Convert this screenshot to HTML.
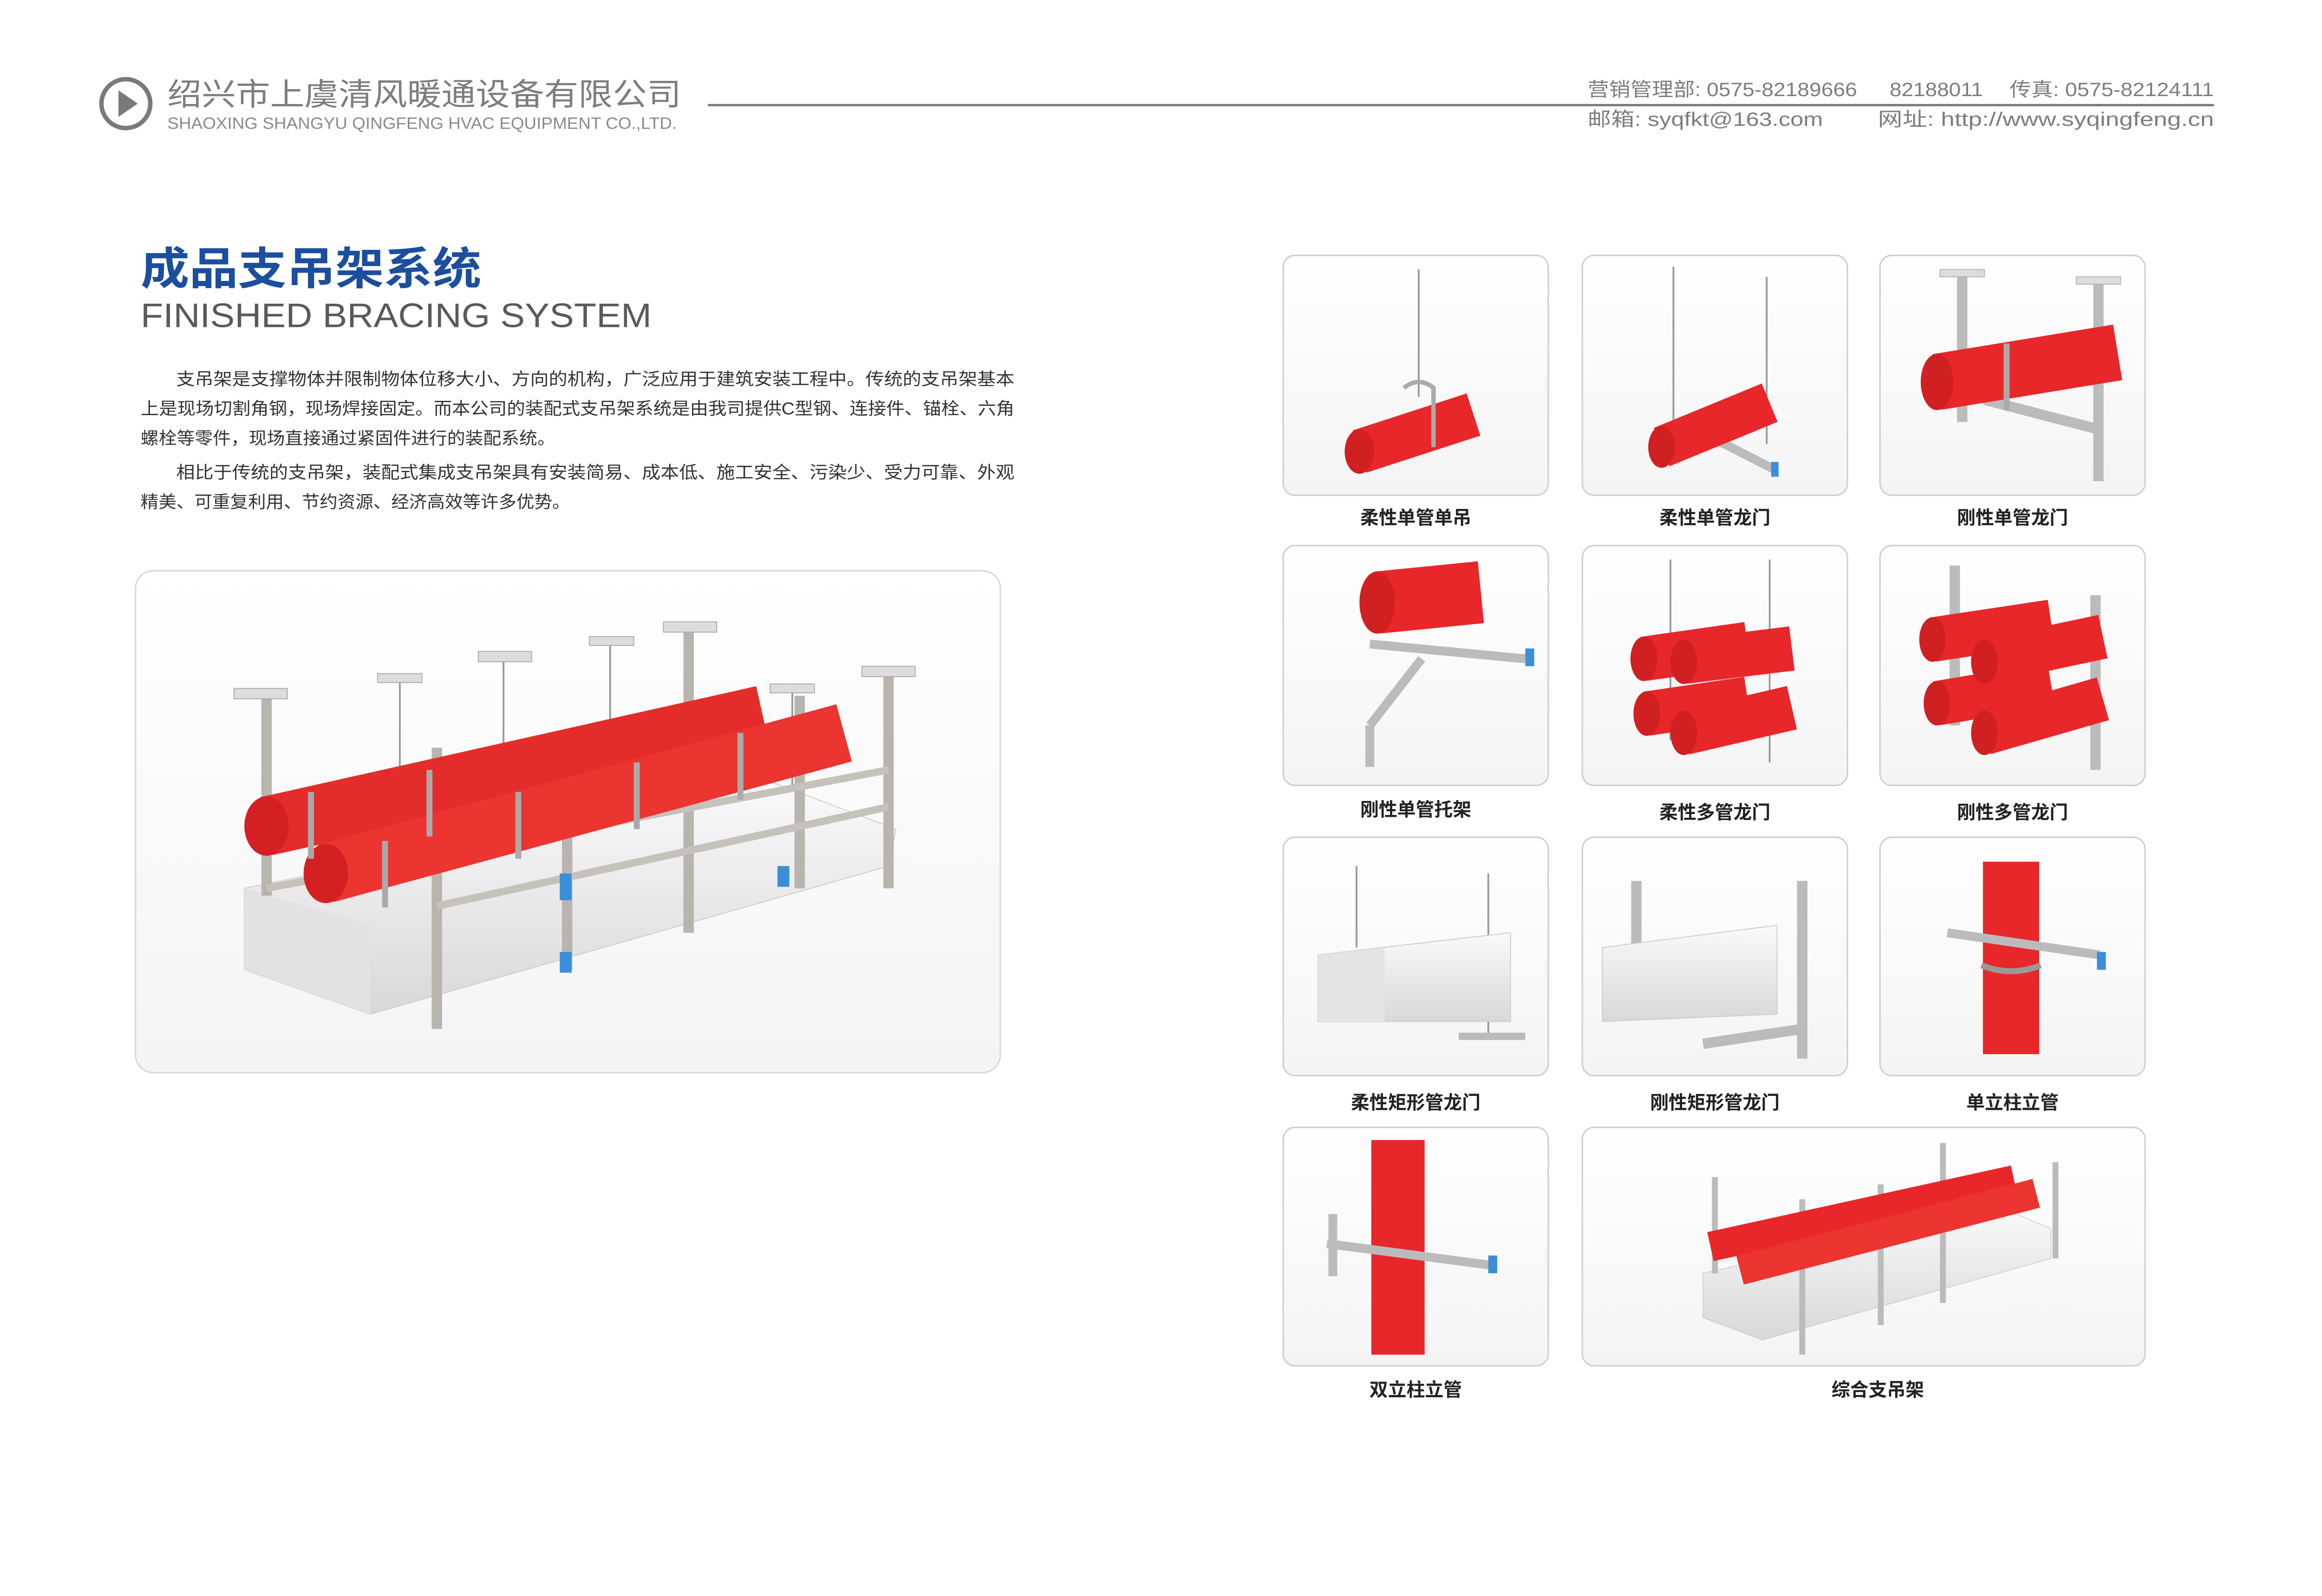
<!DOCTYPE html>
<html><head><meta charset="utf-8"><style>
html,body{margin:0;padding:0;background:#fff}
svg{display:block}
text{font-family:"Liberation Sans","Noto Sans CJK SC",sans-serif}
</style></head><body>
<svg width="5032" height="3437" viewBox="0 0 1578 1078" preserveAspectRatio="none" xmlns="http://www.w3.org/2000/svg">
<defs>
<linearGradient id="cg" x1="0" y1="0" x2="0" y2="1"><stop offset="0" stop-color="#fff"/><stop offset="1" stop-color="#f4f4f4"/></linearGradient>
<linearGradient id="tray" x1="0" y1="0" x2="0" y2="1"><stop offset="0" stop-color="#fafafa"/><stop offset="1" stop-color="#d8d8d8"/></linearGradient>
</defs>
<rect width="1600" height="1100" fill="#fff"/>
<!-- header -->
<circle cx="85" cy="70" r="16.5" fill="none" stroke="#7a7a7a" stroke-width="3"/>
<polygon points="80,61 80,79 93,70" fill="#7a7a7a"/>
<text x="113" y="71" font-size="21" fill="#7d7d7d" textLength="347" lengthAdjust="spacingAndGlyphs">绍兴市上虞清风暖通设备有限公司</text>
<text x="113" y="87" font-size="11" fill="#8a8a8a" textLength="344" lengthAdjust="spacingAndGlyphs">SHAOXING SHANGYU QINGFENG HVAC EQUIPMENT CO.,LTD.</text>
<line x1="478" y1="71" x2="1495" y2="71" stroke="#7a7a7a" stroke-width="1.6"/>
<text x="1072" y="65" font-size="13" fill="#7d7d7d" textLength="182" lengthAdjust="spacingAndGlyphs">营销管理部: 0575-82189666</text>
<text x="1276" y="65" font-size="13" fill="#7d7d7d" textLength="63" lengthAdjust="spacingAndGlyphs">82188011</text>
<text x="1357" y="65" font-size="13" fill="#7d7d7d" textLength="138" lengthAdjust="spacingAndGlyphs">传真: 0575-82124111</text>
<text x="1072" y="85" font-size="13" fill="#7d7d7d" textLength="159" lengthAdjust="spacingAndGlyphs">邮箱: syqfkt@163.com</text>
<text x="1268" y="85" font-size="13" fill="#7d7d7d" textLength="227" lengthAdjust="spacingAndGlyphs">网址: http://www.syqingfeng.cn</text>
<!-- title -->
<text x="95" y="192" font-size="30" font-weight="bold" fill="#1c4e9e" textLength="230" lengthAdjust="spacingAndGlyphs">成品支吊架系统</text>
<text x="95" y="221" font-size="23" fill="#5a5a5a" textLength="345" lengthAdjust="spacingAndGlyphs">FINISHED BRACING SYSTEM</text>
<g font-size="11.5" fill="#333">
<text x="119" y="260" textLength="566" lengthAdjust="spacingAndGlyphs">支吊架是支撑物体并限制物体位移大小、方向的机构，广泛应用于建筑安装工程中。传统的支吊架基本</text>
<text x="95" y="280" textLength="590" lengthAdjust="spacingAndGlyphs">上是现场切割角钢，现场焊接固定。而本公司的装配式支吊架系统是由我司提供C型钢、连接件、锚栓、六角</text>
<text x="95" y="300" textLength="280" lengthAdjust="spacingAndGlyphs">螺栓等零件，现场直接通过紧固件进行的装配系统。</text>
<text x="119" y="323" textLength="566" lengthAdjust="spacingAndGlyphs">相比于传统的支吊架，装配式集成支吊架具有安装简易、成本低、施工安全、污染少、受力可靠、外观</text>
<text x="95" y="343" textLength="290" lengthAdjust="spacingAndGlyphs">精美、可重复利用、节约资源、经济高效等许多优势。</text>
</g>
<!-- main image box -->
<rect x="91.5" y="385.5" width="584" height="339" rx="12" fill="url(#cg)" stroke="#d8d8d8"/>
<g>
<polygon points="165,600 520,528 605,560 600,585 250,685 165,655" fill="url(#tray)" stroke="#ccc" stroke-width="0.6"/>
<polygon points="165,600 250,625 250,685 165,655" fill="#e2e2e2"/>
<g stroke="#b8b4ae" stroke-width="7">
<line x1="180" y1="470" x2="180" y2="605"/><line x1="295" y1="505" x2="295" y2="695"/>
<line x1="465" y1="425" x2="465" y2="630"/><line x1="600" y1="455" x2="600" y2="600"/>
<line x1="383" y1="500" x2="383" y2="655"/><line x1="540" y1="470" x2="540" y2="600"/>
</g>
<g stroke="#c5c1bb" stroke-width="5">
<line x1="180" y1="600" x2="600" y2="520"/><line x1="295" y1="612" x2="600" y2="545"/>
</g>
<g stroke="#999" stroke-width="1.2">
<line x1="270" y1="460" x2="270" y2="560"/><line x1="340" y1="445" x2="340" y2="540"/>
<line x1="412" y1="435" x2="412" y2="520"/><line x1="535" y1="465" x2="535" y2="530"/>
</g>
<g fill="#ddd" stroke="#aaa" stroke-width="0.6">
<rect x="158" y="465" width="36" height="7"/><rect x="323" y="440" width="36" height="7"/><rect x="448" y="420" width="36" height="7"/>
<rect x="582" y="450" width="36" height="7"/><rect x="255" y="455" width="30" height="6"/><rect x="398" y="430" width="30" height="6"/><rect x="520" y="462" width="30" height="6"/>
</g>
<line x1="180" y1="558" x2="515" y2="483" stroke="#e42d2a" stroke-width="40"/>
<ellipse cx="180" cy="558" rx="15" ry="20" fill="#d42022"/>
<line x1="220" y1="590" x2="570" y2="495" stroke="#ec3430" stroke-width="40"/>
<ellipse cx="220" cy="590" rx="15" ry="20" fill="#d42022"/>
<g fill="none" stroke="#aaa" stroke-width="4">
<path d="M210,535 v45"/><path d="M290,520 v45"/><path d="M350,535 v45"/><path d="M430,515 v45"/><path d="M500,495 v45"/><path d="M260,568 v45"/>
</g>
<g fill="#3b8ed8"><rect x="378" y="590" width="8" height="18"/><rect x="378" y="643" width="8" height="14"/><rect x="525" y="585" width="8" height="14"/></g>
</g>
<!-- cards -->
<g fill="url(#cg)" stroke="#cfcfcf" stroke-width="1">
<rect x="866.5" y="172.5" width="179" height="162" rx="8"/>
<rect x="1068.5" y="172.5" width="179" height="162" rx="8"/>
<rect x="1269.5" y="172.5" width="179" height="162" rx="8"/>
<rect x="866.5" y="368.5" width="179" height="162" rx="8"/>
<rect x="1068.5" y="368.5" width="179" height="162" rx="8"/>
<rect x="1269.5" y="368.5" width="179" height="162" rx="8"/>
<rect x="866.5" y="565.5" width="179" height="161" rx="8"/>
<rect x="1068.5" y="565.5" width="179" height="161" rx="8"/>
<rect x="1269.5" y="565.5" width="179" height="161" rx="8"/>
<rect x="866.5" y="761.5" width="179" height="161" rx="8"/>
<rect x="1068.5" y="761.5" width="380" height="161" rx="8"/>
</g>
<!-- card1 -->
<line x1="958" y1="182" x2="958" y2="268" stroke="#999" stroke-width="1.2"/>
<line x1="918" y1="305" x2="995" y2="280" stroke="#e8272a" stroke-width="30"/>
<ellipse cx="918" cy="305" rx="10" ry="15" fill="#d02022"/>
<path d="M948,262 q10,-8 20,0 v40" fill="none" stroke="#aaa" stroke-width="3"/>
<!-- card2 -->
<line x1="1130" y1="180" x2="1130" y2="285" stroke="#999" stroke-width="1.2"/>
<line x1="1193" y1="187" x2="1193" y2="300" stroke="#999" stroke-width="1.2"/>
<line x1="1145" y1="290" x2="1200" y2="318" stroke="#bbb" stroke-width="6"/>
<line x1="1122" y1="302" x2="1195" y2="272" stroke="#e8272a" stroke-width="28"/>
<ellipse cx="1122" cy="302" rx="9" ry="14" fill="#d02022"/>
<rect x="1196" y="312" width="5" height="10" fill="#3b8ed8"/>
<!-- card3 -->
<g stroke="#bbb" stroke-width="7"><line x1="1325" y1="185" x2="1325" y2="285"/><line x1="1417" y1="190" x2="1417" y2="325"/><line x1="1340" y1="270" x2="1417" y2="290"/></g>
<rect x="1310" y="182" width="30" height="5" fill="#ddd" stroke="#aaa" stroke-width="0.5"/><rect x="1402" y="187" width="30" height="5" fill="#ddd" stroke="#aaa" stroke-width="0.5"/>
<line x1="1308" y1="258" x2="1430" y2="238" stroke="#e8272a" stroke-width="38"/>
<ellipse cx="1308" cy="258" rx="11" ry="19" fill="#d02022"/>
<path d="M1355,232 v45" stroke="#aaa" stroke-width="4"/>
<!-- card4 -->
<line x1="930" y1="407" x2="1000" y2="400" stroke="#e8272a" stroke-width="42"/>
<ellipse cx="930" cy="407" rx="12" ry="21" fill="#d02022"/>
<g stroke="#bbb" stroke-width="6"><line x1="925" y1="435" x2="1030" y2="445"/><line x1="960" y1="445" x2="925" y2="490"/><line x1="925" y1="490" x2="925" y2="518"/></g>
<rect x="1030" y="438" width="6" height="12" fill="#3b8ed8"/>
<!-- card5 -->
<line x1="1128" y1="378" x2="1128" y2="500" stroke="#999" stroke-width="1.2"/>
<line x1="1195" y1="378" x2="1195" y2="515" stroke="#999" stroke-width="1.2"/>
<g stroke="#e8272a" stroke-width="30">
<line x1="1110" y1="445" x2="1180" y2="435"/><line x1="1137" y1="447" x2="1210" y2="438"/>
<line x1="1112" y1="482" x2="1180" y2="472"/><line x1="1137" y1="495" x2="1210" y2="478"/></g>
<g fill="#d02022"><ellipse cx="1110" cy="445" rx="9" ry="15"/><ellipse cx="1137" cy="447" rx="9" ry="15"/><ellipse cx="1112" cy="482" rx="9" ry="15"/><ellipse cx="1137" cy="495" rx="9" ry="15"/></g>
<!-- card6 -->
<g stroke="#bbb" stroke-width="7"><line x1="1320" y1="382" x2="1320" y2="490"/><line x1="1415" y1="402" x2="1415" y2="520"/></g>
<g stroke="#e8272a" stroke-width="30">
<line x1="1305" y1="432" x2="1385" y2="420"/><line x1="1340" y1="447" x2="1420" y2="430"/>
<line x1="1308" y1="475" x2="1385" y2="462"/><line x1="1340" y1="495" x2="1420" y2="472"/></g>
<g fill="#d02022"><ellipse cx="1305" cy="432" rx="9" ry="15"/><ellipse cx="1340" cy="447" rx="9" ry="15"/><ellipse cx="1308" cy="475" rx="9" ry="15"/><ellipse cx="1340" cy="495" rx="9" ry="15"/></g>
<!-- card7 -->
<line x1="916" y1="585" x2="916" y2="640" stroke="#999" stroke-width="1.2"/><line x1="1005" y1="590" x2="1005" y2="700" stroke="#999" stroke-width="1.2"/>
<polygon points="890,645 1020,630 1020,690 890,690" fill="url(#tray)" stroke="#ccc" stroke-width="0.6"/>
<polygon points="890,645 935,640 935,690 890,690" fill="#e4e4e4"/>
<line x1="985" y1="700" x2="1030" y2="700" stroke="#bbb" stroke-width="5"/>
<!-- card8 -->
<g stroke="#bbb" stroke-width="7"><line x1="1105" y1="595" x2="1105" y2="660"/><line x1="1217" y1="595" x2="1217" y2="715"/><line x1="1150" y1="705" x2="1217" y2="695"/></g>
<polygon points="1082,640 1200,625 1200,685 1082,690" fill="url(#tray)" stroke="#ccc" stroke-width="0.6"/>
<!-- card9 -->
<line x1="1358" y1="582" x2="1358" y2="712" stroke="#e8272a" stroke-width="38"/>
<g stroke="#bbb" stroke-width="6"><line x1="1315" y1="630" x2="1418" y2="645"/></g>
<rect x="1416" y="643" width="6" height="12" fill="#3b8ed8"/>
<path d="M1338,652 q20,8 40,0" fill="none" stroke="#999" stroke-width="4"/>
<!-- card10 -->
<line x1="944" y1="770" x2="944" y2="915" stroke="#e8272a" stroke-width="36"/>
<g stroke="#bbb" stroke-width="6"><line x1="896" y1="840" x2="1010" y2="855"/><line x1="900" y1="820" x2="900" y2="862"/></g>
<rect x="1005" y="848" width="6" height="12" fill="#3b8ed8"/>
<!-- card11 -->
<polygon points="1150,860 1350,815 1385,830 1385,850 1190,905 1150,890" fill="url(#tray)" stroke="#ccc" stroke-width="0.5"/>
<g stroke="#bbb" stroke-width="4"><line x1="1158" y1="795" x2="1158" y2="860"/><line x1="1217" y1="810" x2="1217" y2="915"/><line x1="1312" y1="772" x2="1312" y2="880"/><line x1="1388" y1="785" x2="1388" y2="850"/><line x1="1270" y1="800" x2="1270" y2="895"/></g>
<line x1="1155" y1="842" x2="1360" y2="797" stroke="#e8272a" stroke-width="20"/>
<line x1="1175" y1="858" x2="1375" y2="806" stroke="#ec3430" stroke-width="20"/>
<!-- labels -->
<g font-size="12.5" font-weight="bold" fill="#222" text-anchor="middle">
<text x="956" y="354">柔性单管单吊</text><text x="1158" y="354">柔性单管龙门</text><text x="1359" y="354">刚性单管龙门</text>
<text x="956" y="551">刚性单管托架</text><text x="1158" y="553">柔性多管龙门</text><text x="1359" y="553">刚性多管龙门</text>
<text x="956" y="749">柔性矩形管龙门</text><text x="1158" y="749">刚性矩形管龙门</text><text x="1359" y="749">单立柱立管</text>
<text x="956" y="943">双立柱立管</text><text x="1268" y="943">综合支吊架</text>
</g>
</svg>
</body></html>
